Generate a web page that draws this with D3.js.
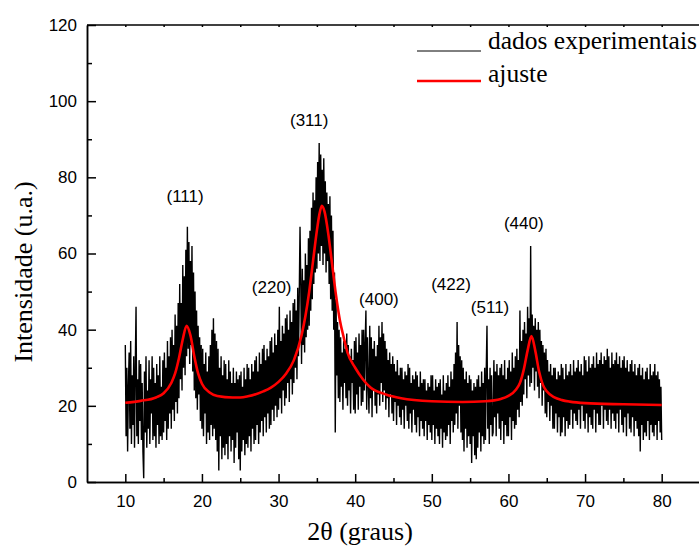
<!DOCTYPE html>
<html>
<head>
<meta charset="utf-8">
<script src="https://cdn.jsdelivr.net/npm/d3@7"></script>
<style>
  body { margin: 0; background: #fff; }
  svg { display: block; }
  .tick text { font-family: "Liberation Sans", Arial, sans-serif; font-size: 17px; fill: #000; }
  .domain, .tick line { stroke: #000; stroke-width: 1.5; }
  .serif { font-family: "Liberation Serif", "Times New Roman", serif; fill: #000; }
</style>
</head>
<body>
<svg></svg>
<script>
/* scan: 2theta from 10 to 80 in steps of 0.1 deg, intensity */
var scanStart = 10;
var scanStep = 0.1;
var intensity = [
  36, 12, 30, 8, 25, 34, 14, 37, 10, 28,    // 10
  15, 33, 9, 30, 46, 12, 27, 10, 32, 16,    // 11
  31, 11, 26, 8, 1, 29, 13, 33, 9, 24,      // 12
  14, 32, 10, 27, 18, 33, 11, 30, 12, 26,   // 13
  9, 31, 15, 28, 10, 33, 12, 25, 11, 32,    // 14
  13, 34, 16, 30, 11, 37, 14, 33, 18, 38,   // 15
  14, 40, 19, 36, 16, 44, 21, 41, 18, 47,   // 16
  22, 52, 27, 47, 24, 57, 30, 54, 28, 61,   // 17
  33, 67, 35, 63, 31, 58, 36, 62, 29, 55,   // 18
  24, 50, 22, 45, 19, 41, 23, 38, 16, 36,   // 19
  14, 35, 12, 31, 18, 34, 10, 29, 13, 33,   // 20
  11, 36, 15, 40, 12, 43, 14, 39, 11, 37,   // 21
  8, 35, 3, 30, 12, 33, 6, 28, 9, 32,       // 22
  7, 31, 10, 27, 6, 32, 12, 29, 8, 26,      // 23
  11, 30, 5, 26, 9, 29, 13, 27, 6, 28,      // 24
  3, 29, 8, 25, 11, 30, 7, 27, 10, 31,      // 25
  9, 30, 12, 27, 8, 31, 14, 29, 10, 32,     // 26
  11, 33, 15, 29, 10, 34, 13, 31, 16, 35,   // 27
  12, 36, 17, 32, 13, 35, 18, 33, 14, 37,   // 28
  15, 38, 19, 34, 16, 39, 20, 36, 17, 40,   // 29
  19, 46, 22, 37, 18, 41, 24, 39, 20, 43,   // 30
  22, 44, 26, 40, 21, 45, 27, 42, 23, 47,   // 31
  26, 48, 30, 45, 27, 51, 33, 49, 67, 52,   // 32
  31, 56, 36, 53, 34, 60, 38, 57, 40, 64,   // 33
  41, 66, 45, 72, 48, 76, 52, 74, 55, 80,   // 34
  56, 84, 60, 89, 58, 86, 62, 82, 57, 85,   // 35
  60, 79, 55, 76, 58, 73, 52, 75, 48, 70,   // 36
  45, 66, 40, 55, 13, 48, 28, 42, 22, 40,   // 37
  21, 38, 25, 34, 19, 37, 26, 35, 22, 39,   // 38
  20, 36, 24, 33, 18, 35, 26, 32, 19, 37,   // 39
  18, 38, 23, 34, 19, 39, 25, 36, 20, 40,   // 40
  21, 40, 24, 36, 45, 19, 38, 26, 18, 41,   // 41
  22, 38, 17, 35, 24, 37, 20, 33, 18, 36,   // 42
  23, 41, 20, 38, 26, 42, 21, 39, 24, 37,   // 43
  19, 35, 22, 32, 17, 34, 23, 31, 18, 33,   // 44
  16, 31, 21, 29, 15, 32, 20, 28, 17, 30,   // 45
  15, 30, 19, 27, 14, 29, 20, 28, 16, 31,   // 46
  14, 30, 18, 26, 13, 28, 19, 27, 15, 29,   // 47
  13, 28, 17, 25, 12, 29, 16, 26, 14, 27,   // 48
  12, 27, 16, 24, 11, 26, 15, 25, 13, 28,   // 49
  11, 28, 15, 24, 10, 27, 14, 25, 12, 26,   // 50
  10, 27, 14, 23, 9, 28, 13, 24, 11, 26,    // 51
  12, 28, 15, 25, 10, 29, 16, 27, 13, 31,   // 52
  15, 34, 18, 42, 14, 36, 20, 33, 13, 32,   // 53
  11, 30, 8, 27, 14, 29, 9, 26, 12, 28,     // 54
  10, 27, 5, 24, 12, 26, 7, 25, 6, 27,      // 55
  9, 28, 13, 25, 8, 29, 12, 26, 10, 30,     // 56
  11, 29, 41, 14, 27, 10, 30, 15, 28, 12,   // 57
  13, 32, 17, 29, 12, 31, 18, 28, 14, 30,   // 58
  11, 31, 16, 28, 10, 32, 15, 27, 12, 30,   // 59
  12, 32, 17, 29, 11, 34, 16, 30, 14, 33,   // 60
  15, 35, 19, 32, 17, 45, 21, 37, 20, 40,   // 61
  23, 42, 27, 39, 22, 46, 28, 43, 25, 62,   // 62
  26, 44, 30, 41, 24, 43, 29, 40, 25, 42,   // 63
  22, 40, 26, 37, 20, 36, 24, 34, 18, 35,   // 64
  17, 32, 21, 29, 16, 31, 20, 28, 14, 30,   // 65
  14, 30, 18, 27, 13, 29, 17, 28, 12, 31,   // 66
  13, 30, 17, 27, 12, 31, 16, 28, 14, 29,   // 67
  15, 31, 19, 28, 14, 32, 18, 29, 16, 30,   // 68
  15, 32, 19, 29, 14, 31, 20, 28, 16, 33,   // 69
  14, 32, 18, 29, 13, 33, 17, 30, 15, 31,   // 70
  14, 33, 19, 30, 13, 34, 18, 31, 15, 32,   // 71
  15, 34, 20, 31, 14, 33, 19, 32, 16, 35,   // 72
  15, 33, 19, 30, 14, 34, 18, 31, 16, 32,   // 73
  14, 34, 18, 31, 13, 33, 19, 30, 15, 32,   // 74
  13, 33, 17, 30, 12, 32, 18, 29, 14, 31,   // 75
  13, 32, 17, 29, 12, 31, 16, 28, 14, 30,   // 76
  12, 31, 8, 28, 15, 30, 11, 27, 13, 29,    // 77
  12, 30, 16, 27, 11, 31, 15, 28, 13, 29,   // 78
  12, 31, 15, 28, 11, 29, 16, 27, 13, 25,   // 79
  11                                        // 80
];

/* fitted curve (ajuste) */
var fitX = [10, 12, 14, 15, 16, 16.5, 17, 17.5, 18, 18.5, 19, 19.5, 20, 21, 22, 24, 25, 26,
            28, 29, 30, 31, 32, 33, 33.5, 34, 34.5, 35, 35.3, 35.65, 36, 36.5, 37, 37.5, 38,
            38.5, 39, 40, 41, 42, 44, 46, 50, 54, 57, 59, 60, 61, 61.5, 62, 62.5, 63, 63.5,
            64, 64.5, 65, 66, 67, 68, 70, 75, 80];
var fitY = [20.8, 21.3, 22.2, 23.3, 26, 28.5, 32.5, 37.5, 41, 38.5, 33, 28.5, 25.8, 23.5, 22.6, 22.2, 22.2, 22.5,
            23.8, 24.8, 26.3, 28.5, 32, 38.5, 43.5, 50, 58, 66, 70, 72.5, 71, 65, 57, 49, 42.5,
            38, 34, 30, 27, 24.8, 23, 22, 21.2, 21, 21.2, 21.8, 22.6, 24.3, 26, 29.5, 34.5, 38.3, 34.5,
            29, 25.5, 23.8, 22.2, 21.5, 21.1, 20.7, 20.4, 20.2];

/* peak labels */
var peakNames = ["(111)", "(220)", "(311)", "(400)", "(422)", "(511)", "(440)"];
var peakPosX = [17.8, 29.1, 34.0, 43.1, 52.5, 57.6, 62.0];
var peakPosY = [73.5, 49.5, 93.5, 46.5, 50.5, 44.5, 66.5];

var xTicks = [10, 20, 30, 40, 50, 60, 70, 80];
var xMinor = [15, 25, 35, 45, 55, 65, 75];
var yTicks = [0, 20, 40, 60, 80, 100, 120];
var yMinor = [10, 30, 50, 70, 90, 110];

var legendNames = ["dados experimentais", "ajuste"];
var legendColors = ["#000", "#ff0000"];

/* svg setting */
var svgWidth = 699;
var svgHeight = 548;
var margin = {top: 25, left: 87};
var plotRight = 700;
var plotBottom = 482;
var scale = {};

var svg = d3.select("svg")
    .attr("width", svgWidth)
    .attr("height", svgHeight);

setScale();
initializeAxis();
drawData();
drawLabels();
drawLegend();

function setScale(){
  scale.x = d3.scaleLinear()
      .domain([5, 85])
      .range([margin.left, plotRight]);
  scale.y = d3.scaleLinear()
      .domain([0, 120])
      .range([plotBottom, margin.top]);
}

function initializeAxis(){
  // frame top
  svg.append("line")
      .attr("x1", margin.left).attr("x2", plotRight)
      .attr("y1", margin.top).attr("y2", margin.top)
      .attr("stroke", "#000").attr("stroke-width", 1.5);

  svg.append("g")
      .attr("class", "x_top")
      .attr("transform", translate(0, margin.top))
      .call(d3.axisTop(scale.x).tickValues(xTicks.concat(xMinor)).tickSizeInner(-2).tickSizeOuter(0).tickFormat(""))
      .select(".domain").remove();

  svg.append("g")
      .attr("class", "x_minor")
      .attr("transform", translate(0, plotBottom))
      .call(d3.axisBottom(scale.x).tickValues(xMinor).tickSizeInner(-4).tickSizeOuter(0).tickFormat(""));

  svg.append("g")
      .attr("class", "x_axis")
      .attr("transform", translate(0, plotBottom))
      .call(d3.axisBottom(scale.x).tickValues(xTicks).tickSizeInner(-8).tickSizeOuter(0).tickPadding(13));

  svg.append("g")
      .attr("class", "y_minor")
      .attr("transform", translate(margin.left, 0))
      .call(d3.axisLeft(scale.y).tickValues(yMinor).tickSizeInner(-5).tickSizeOuter(0).tickFormat(""));

  svg.append("g")
      .attr("class", "y_axis")
      .attr("transform", translate(margin.left, 0))
      .call(d3.axisLeft(scale.y).tickValues(yTicks).tickSizeInner(-9).tickSizeOuter(0).tickPadding(10));

  svg.append("text")
      .attr("class", "serif")
      .attr("x", 360)
      .attr("y", 540)
      .attr("text-anchor", "middle")
      .style("font-size", "26px")
      .text("2θ (graus)");

  svg.append("text")
      .attr("class", "serif")
      .attr("transform", "translate(32,272) rotate(-90)")
      .attr("text-anchor", "middle")
      .style("font-size", "26px")
      .text("Intensidade (u.a.)");
}

function drawData(){
  var scan = intensity.map(function(v, i){
    return {x: scanStart + i*scanStep, y: v};
  });
  var fit = fitX.map(function(x, i){
    return {x: x, y: fitY[i]};
  });

  var line = d3.line()
      .x(function(d){ return scale.x(d.x); })
      .y(function(d){ return scale.y(d.y); });

  svg.append("path")
      .datum(scan)
      .attr("fill", "none")
      .attr("stroke", "#000")
      .attr("stroke-width", 1.4)
      .attr("d", line);

  svg.append("path")
      .datum(fit)
      .attr("fill", "none")
      .attr("stroke", "#ff0000")
      .attr("stroke-width", 2.6)
      .attr("d", line.curve(d3.curveMonotoneX));
}

function drawLabels(){
  svg.selectAll(".peak")
      .data(peakNames)
      .enter()
      .append("text")
      .attr("class", "peak")
      .attr("x", function(d, i){ return scale.x(peakPosX[i]); })
      .attr("y", function(d, i){ return scale.y(peakPosY[i]); })
      .attr("text-anchor", "middle")
      .style("font-family", "Liberation Sans, Arial, sans-serif")
      .style("font-size", "17px")
      .text(function(d){ return d; });
}

function drawLegend(){
  var g = svg.append("g").attr("class", "legend");
  legendNames.forEach(function(name, i){
    var y = 51 + i*30;
    g.append("line")
        .attr("x1", 417).attr("x2", 481)
        .attr("y1", y).attr("y2", y)
        .attr("stroke", legendColors[i])
        .attr("stroke-width", i == 0 ? 1 : 2.6);
    g.append("text")
        .attr("class", "serif")
        .attr("x", 488)
        .attr("y", y - 2 + i*3)
        .style("font-size", "25.5px")
        .text(name);
  });
}

function translate(x, y) {
  return "translate(" + x + "," + y + ")";
}
</script>
</body>
</html>
